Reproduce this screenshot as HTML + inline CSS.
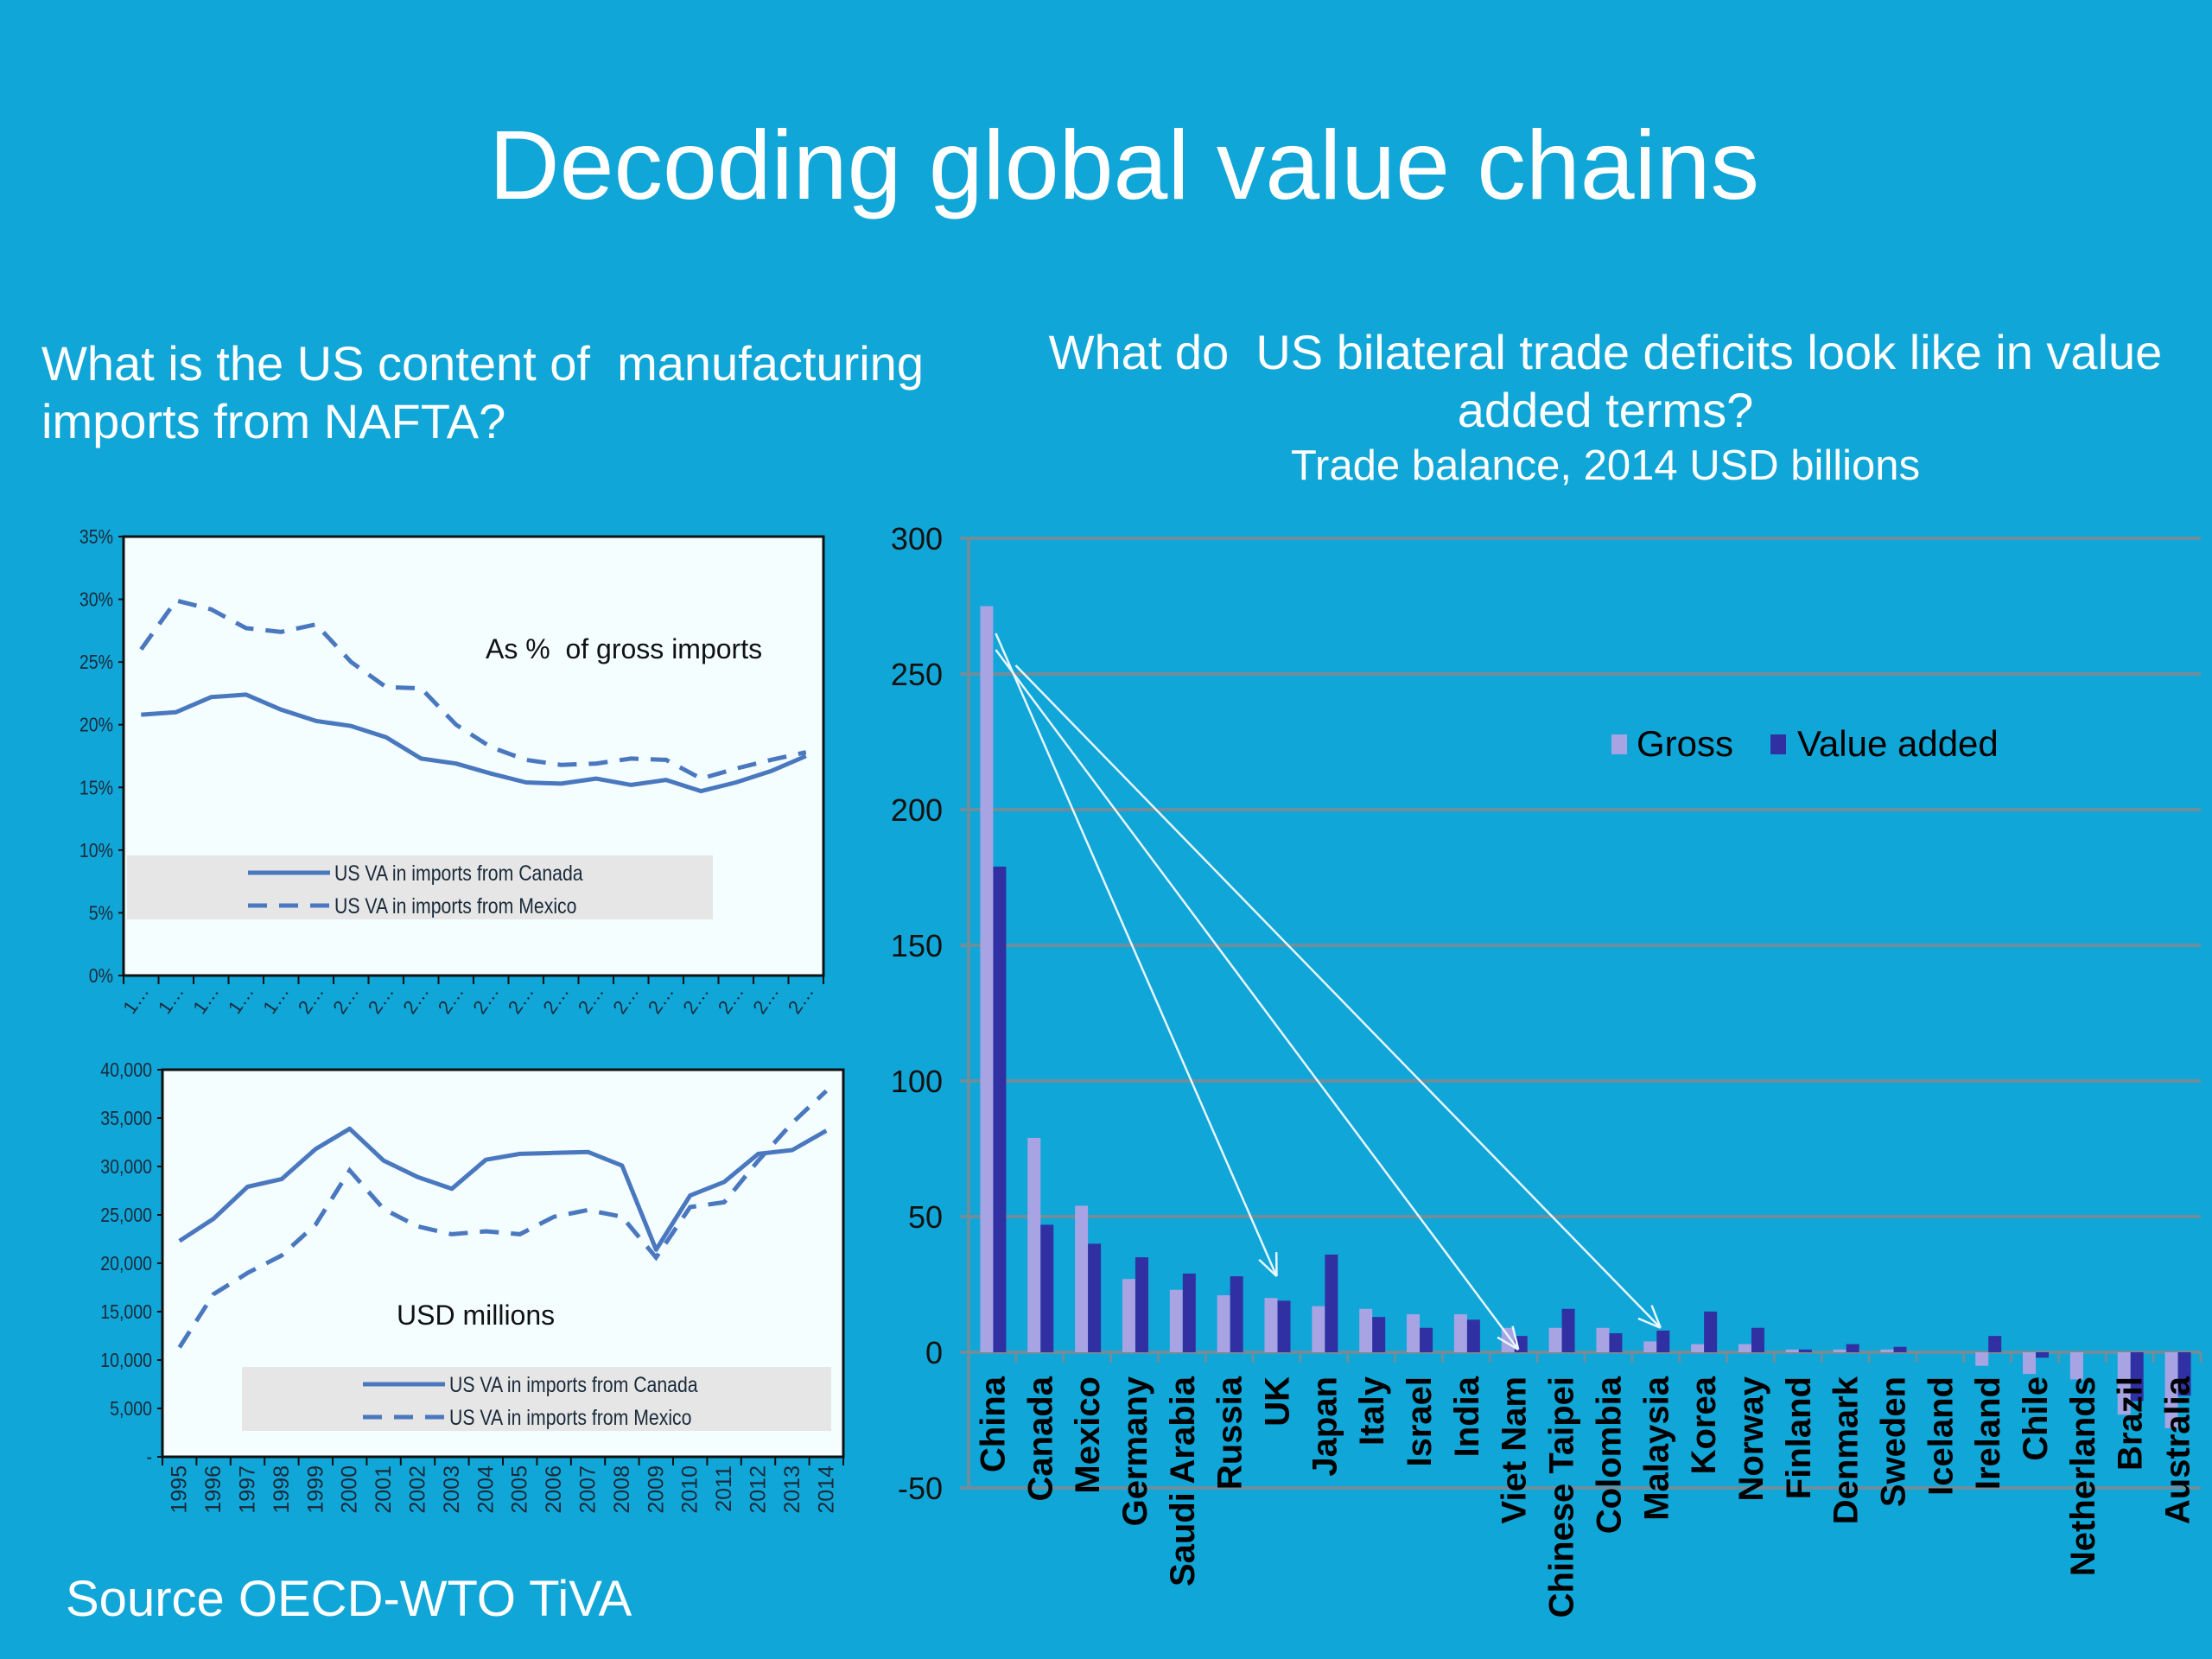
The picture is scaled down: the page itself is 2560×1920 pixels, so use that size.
<!DOCTYPE html>
<html><head><meta charset="utf-8"><style>
html,body{margin:0;padding:0;background:#10a6d7;}
svg{display:block;font-family:"Liberation Sans",sans-serif;}
text{white-space:pre;}
</style></head><body>
<svg id="s" width="2560" height="1920" viewBox="0 0 2560 1920" xmlns="http://www.w3.org/2000/svg">
<rect width="2560" height="1920" fill="#10a6d7"/>
<text x="1301" y="230" font-size="113" fill="#fff" text-anchor="middle">Decoding global value chains</text>
<g fill="#fff" font-size="56">
<text x="48" y="440">What is the US content of  manufacturing</text>
<text x="48" y="507">imports from NAFTA?</text></g>
<g fill="#fff" font-size="56" text-anchor="middle">
<text x="1858" y="427">What do  US bilateral trade deficits look like in value</text>
<text x="1858" y="494">added terms?</text>
<text x="1858" y="555" font-size="49">Trade balance, 2014 USD billions</text></g>
<text x="76" y="1870" font-size="58" fill="#fff">Source OECD-WTO TiVA</text>
<g id="top"></g>
<g id="bot"></g>
<g id="bar"></g>
</svg>
<script>
const years=["1995","1996","1997","1998","1999","2000","2001","2002","2003","2004","2005","2006","2007","2008","2009","2010","2011","2012","2013","2014"];
const pctCanada=[20.8,21.0,22.2,22.4,21.2,20.3,19.9,19.0,17.3,16.9,16.1,15.4,15.3,15.7,15.2,15.6,14.7,15.4,16.3,17.5];
const pctMexico=[26.0,29.9,29.2,27.7,27.4,28.0,25.0,23.0,22.9,20.0,18.2,17.2,16.8,16.9,17.3,17.2,15.7,16.5,17.2,17.8];
const pctTicks=[0,5,10,15,20,25,30,35];
const usdCanada=[22300,24600,27900,28700,31800,33900,30600,28900,27700,30700,31300,31400,31500,30100,21400,27000,28400,31300,31700,33700];
const usdMexico=[11300,16800,19000,20800,24000,29600,25600,23800,23000,23300,23000,24800,25500,24800,20600,25800,26300,30600,34500,37800];
const usdTicks=[0,5000,10000,15000,20000,25000,30000,35000,40000];
const countries=["China","Canada","Mexico","Germany","Saudi Arabia","Russia","UK","Japan","Italy","Israel","India","Viet Nam","Chinese Taipei","Colombia","Malaysia","Korea","Norway","Finland","Denmark","Sweden","Iceland","Ireland","Chile","Netherlands","Brazil","Australia"];
const grossVals=[275,79,54,27,23,21,20,17,16,14,14,9,9,9,4,3,3,1,1,1,0,-5,-8,-10,-23,-28];
const vaVals=[179,47,40,35,29,28,19,36,13,9,12,6,16,7,8,15,9,1,3,2,0,6,-2,0,-18,-16];
const balTicks=[-50,0,50,100,150,200,250,300];
const arrowTargets=[6.5,11.6,14.6];
const arrowTargetVals=[28,1,9];

const NS="http://www.w3.org/2000/svg";
function mk(p,t,a,txt){const e=document.createElementNS(NS,t);for(const k in a)e.setAttribute(k,a[k]);if(txt!==undefined)e.textContent=txt;p.appendChild(e);return e;}

function lineChart(g,L,R,T,B,maxV,ticks,fmt,s1,s2,legBox,note,noteX,noteY,rotYears){
  const n=years.length,cw=(R-L)/n;
  const x=i=>L+cw*(i+0.5), y=v=>B-(v/maxV)*(B-T);
  const bg=mk(g,'rect',{x:L,y:T,width:R-L,height:B-T,fill:'#f4fdff',stroke:'#111','stroke-width':3});
  
  
  ticks.forEach(t=>{const e=mk(g,'text',{x:(L-12)/0.85,y:y(t)+8,'font-size':23,'text-anchor':'end',fill:'#1a2a3a',transform:`scale(0.85,1)`},fmt(t));
    
    
    mk(g,'line',{x1:L-6,x2:L,y1:y(t),y2:y(t),stroke:'#111','stroke-width':2});});
  for(let i=0;i<=n;i++){mk(g,'line',{x1:L+cw*i,x2:L+cw*i,y1:B,y2:B+10,stroke:'#111','stroke-width':2});}
  years.forEach((yr,i)=>{let e;
    if(rotYears){e=mk(g,'text',{x:0,y:0,'font-size':25,'text-anchor':'end',fill:'#1a2a3a',transform:`translate(${x(i)+8},${B+10}) rotate(-90)`},yr);}
    else{e=mk(g,'text',{x:0,y:0,'font-size':22,'text-anchor':'end',fill:'#1a2a3a',transform:`translate(${x(i)+10},${B+18}) rotate(-55)`},yr.charAt(0)+'…');}
    
    });
  const lb=mk(g,'rect',{x:legBox[0],y:legBox[1],width:legBox[2],height:legBox[3],fill:'#e6e6e6'});
  
  
  const pts=a=>a.map((v,i)=>x(i).toFixed(1)+','+y(v).toFixed(1)).join(' ');
  const l1=mk(g,'polyline',{points:pts(s1),fill:'none',stroke:'#4a78bf','stroke-width':5,'stroke-linejoin':'round'});
  
  
  const l2=mk(g,'polyline',{points:pts(s2),fill:'none',stroke:'#4a78bf','stroke-width':5,'stroke-dasharray':'22,14'});
  
  
  const lx=legBox[0]+legBox[4];
  [['US VA in imports from Canada',''],['US VA in imports from Mexico','22,14']].forEach((d,k)=>{
    const yy=legBox[1]+20+k*38;
    const ln=mk(g,'line',{x1:lx,x2:lx+95,y1:yy,y2:yy,stroke:'#4a78bf','stroke-width':5,'stroke-dasharray':d[1]||'none'});
    
    
    const t=mk(g,'text',{x:(lx+100)/0.85,y:yy+9,'font-size':25,fill:'#1a2a3a',transform:'scale(0.85,1)'},d[0]);
    
    });
  const nt=mk(g,'text',{x:noteX,y:noteY,'font-size':32,fill:'#111'},note);
  
  
}
lineChart(document.getElementById('top'),143,953,621,1129,35,pctTicks,t=>t+'%',pctCanada,pctMexico,[147,990,678,74,140],'As %  of gross imports',562,762,false);
lineChart(document.getElementById('bot'),188,976,1238,1686,40000,usdTicks,t=>t===0?'-':t.toLocaleString('en-US'),usdCanada,usdMexico,[280,1582,682,74,140],'USD millions',459,1533,true);

(function(){
  const g=document.getElementById('bar');
  const L=1121,R=2547,T=623,Z=1565,per=157/50;
  const y=v=>Z-v*per; const n=countries.length, cw=(R-L)/n; const cx=i=>L+cw*(i+0.5);
  balTicks.forEach(t=>{
    mk(g,'line',{x1:L-10,x2:R,y1:y(t),y2:y(t),stroke:'#6f8e9c','stroke-width':4});
    const e=mk(g,'text',{x:L-30,y:y(t)+13,'font-size':36,'text-anchor':'end',fill:'#111'},String(t));
    
    });
  mk(g,'line',{x1:L,x2:L,y1:T,y2:y(-50),stroke:'#6f8e9c','stroke-width':4});
  for(let i=0;i<=n;i++)mk(g,'line',{x1:L+cw*i,x2:L+cw*i,y1:Z,y2:Z+12,stroke:'#6f8e9c','stroke-width':3});
  countries.forEach((c,i)=>{
    const gv=grossVals[i], vv=vaVals[i];
    const b1=mk(g,'rect',{x:cx(i)-14,y:Math.min(y(gv),Z),width:15,height:Math.abs(gv*per),fill:'#a8a4e4'});
    
    
    const b2=mk(g,'rect',{x:cx(i)+1,y:Math.min(y(vv),Z),width:15,height:Math.abs(vv*per),fill:'#3130a2'});
    
    
    const t=mk(g,'text',{x:0,y:0,'font-size':40,'font-weight':'bold','text-anchor':'end',fill:'#000',transform:`translate(${cx(i)+14},${Z+28}) rotate(-90)`},c);
    
    
  });
  const starts=[[cx(0)+4,733],[cx(0)+4,752],[cx(0)+27,770]];
  arrowTargets.forEach((ti,k)=>{
    const x2=L+cw*ti, y2=y(arrowTargetVals[k]);
    const [x1,y1]=starts[k];
    const a=mk(g,'line',{x1,y1,x2,y2,stroke:'#e8f6ff','stroke-width':2.5});
    
    
    const ang=Math.atan2(y2-y1,x2-x1),h=28;
    [0.4,-0.4].forEach(d=>mk(g,'line',{x1:x2,y1:y2,x2:x2-h*Math.cos(ang+d),y2:y2-h*Math.sin(ang+d),stroke:'#e8f6ff','stroke-width':2.5}));
  });
  const lg=mk(g,'g',{});
  
  
  mk(lg,'rect',{x:1865,y:850,width:18,height:23,fill:'#a8a4e4'});
  const t1=mk(lg,'text',{x:1894,y:875,'font-size':42,fill:'#000'},'Gross');
  
  
  mk(lg,'rect',{x:2049,y:850,width:18,height:23,fill:'#3130a2'});
  const t2=mk(lg,'text',{x:2080,y:875,'font-size':42,fill:'#000'},'Value added');
  
  
})();
</script>
</body></html>
